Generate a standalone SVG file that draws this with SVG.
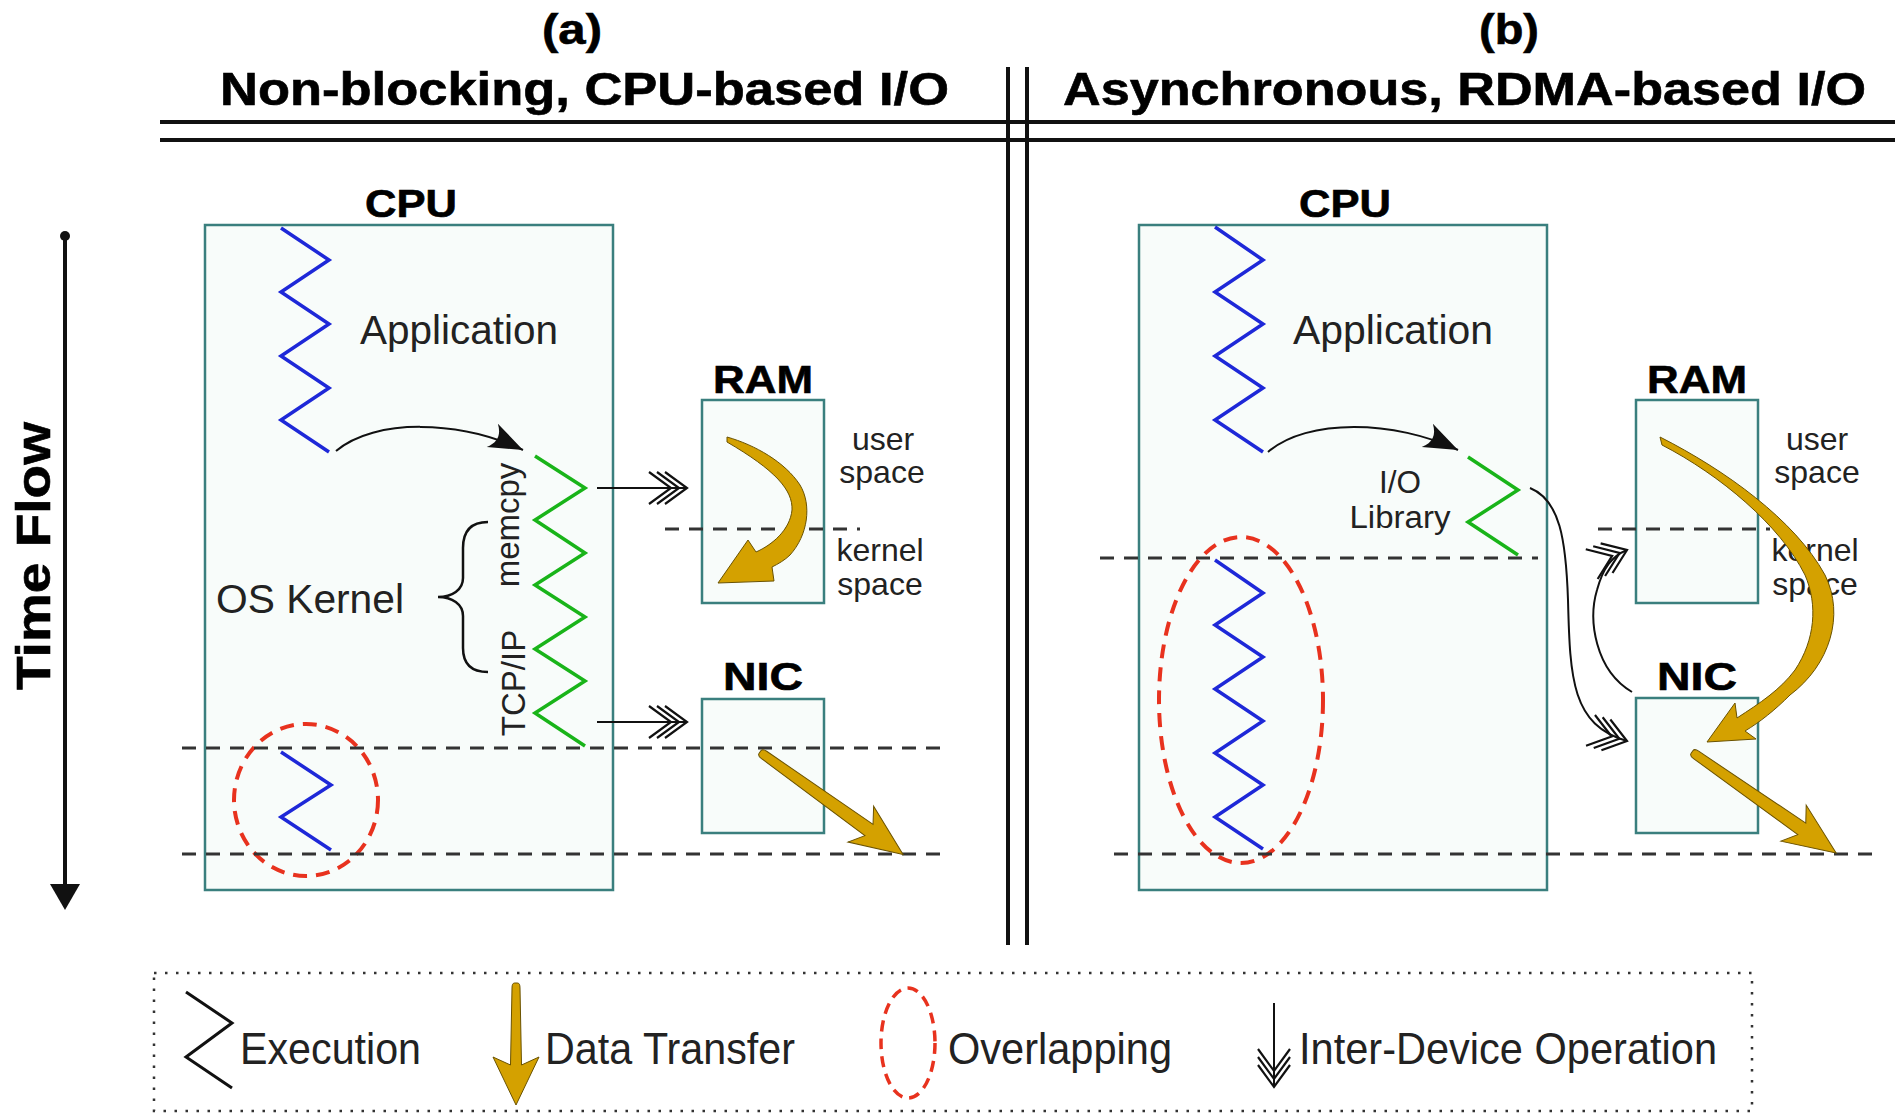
<svg xmlns="http://www.w3.org/2000/svg" width="1899" height="1114" viewBox="0 0 1899 1114">
<style>
.box{fill:#f8fcfa;stroke:#3a7f7e;stroke-width:2.5}
.zb{fill:none;stroke:#1e28d8;stroke-width:3.5}
.zg{fill:none;stroke:#19b419;stroke-width:3.5}
.dash{fill:none;stroke:#333;stroke-width:3;stroke-dasharray:14 10}
.ov{fill:none;stroke:#e8321e;stroke-width:4;stroke-dasharray:14 9}
.gold{fill:#d4a100;stroke:#6a5200;stroke-width:1}
.lbl{font-family:"Liberation Sans",Arial,sans-serif;fill:#222}
.hd{font-family:"Liberation Sans",Arial,sans-serif;font-weight:bold;fill:#000;stroke:#000;stroke-width:0.6}
.conn{fill:none;stroke:#111;stroke-width:2}
.rule{stroke:#111;stroke-width:4}
</style>
<defs>
<marker id="ah" markerUnits="userSpaceOnUse" viewBox="-40 -20 45 40" refX="0" refY="0" markerWidth="45" markerHeight="40" orient="auto">
<path d="M0,0 L-34,-13 C-26,-4 -26,4 -34,13 Z" fill="#111"/>
</marker>
<marker id="tri" markerUnits="userSpaceOnUse" viewBox="-45 -20 50 40" refX="0" refY="0" markerWidth="50" markerHeight="40" orient="auto">
<path d="M-22,-16 L0,0 L-22,16 M-30,-16 L-8,0 L-30,16 M-38,-16 L-16,0 L-38,16" fill="none" stroke="#111" stroke-width="2.2"/>
</marker>
<path id="gs" d="M0,-1.5 Q0,-4.5 5,-4.5 L134,-7 L124,-22 L176,0 L124,22 L134,7 L5,4.5 Q0,4.5 0,1.5 Z"/>
</defs>
<rect width="1899" height="1114" fill="#fff"/>

<g id="dividers">
<line class="rule" x1="160" y1="122" x2="1895" y2="122"/>
<line class="rule" x1="160" y1="140" x2="1895" y2="140"/>
<line class="rule" x1="1008" y1="67" x2="1008" y2="945"/>
<line class="rule" x1="1027" y1="67" x2="1027" y2="945"/>
</g>

<g id="title-a">
<text class="hd" x="572" y="44" font-size="42" text-anchor="middle" textLength="60" lengthAdjust="spacingAndGlyphs">(a)</text>
<text class="hd" x="220" y="105" font-size="46" textLength="729" lengthAdjust="spacingAndGlyphs">Non-blocking, CPU-based I/O</text>
</g>
<g id="title-b">
<text class="hd" x="1509" y="44" font-size="42" text-anchor="middle" textLength="60" lengthAdjust="spacingAndGlyphs">(b)</text>
<text class="hd" x="1063" y="105" font-size="46" textLength="803" lengthAdjust="spacingAndGlyphs">Asynchronous, RDMA-based I/O</text>
</g>

<g id="timeflow">
<circle cx="65" cy="236" r="5" fill="#111"/>
<line x1="65" y1="236" x2="65" y2="888" stroke="#111" stroke-width="4"/>
<polygon points="50,884 80,884 65,910" fill="#111"/>
<text class="hd" transform="translate(50,556) rotate(-90)" font-size="48" text-anchor="middle" textLength="268" lengthAdjust="spacingAndGlyphs">Time Flow</text>
</g>

<!-- Panel (a) -->
<g id="cpu-a">
<text class="hd" x="411" y="217" font-size="38" text-anchor="middle" textLength="92" lengthAdjust="spacingAndGlyphs">CPU</text>
<rect class="box" x="205" y="225" width="408" height="665"/>
<polyline class="zb" points="281,228 329,260 281,292 329,324 281,356 329,388 281,420 329,452"/>
<text class="lbl" x="360" y="344" font-size="40" textLength="198" lengthAdjust="spacingAndGlyphs">Application</text>
<polyline class="zg" points="535,456 585,488 535,520 585,553 535,585 585,617 535,649 585,681 535,713 585,746"/>
<text class="lbl" transform="translate(519,525) rotate(-90)" font-size="33" text-anchor="middle">memcpy</text>
<text class="lbl" transform="translate(525,683) rotate(-90)" font-size="33" text-anchor="middle">TCP/IP</text>
<path d="M488,522 C470,522 463,532 463,548 L463,578 C463,590 452,597 438,597 C452,597 463,604 463,616 L463,648 C463,663 470,672 488,672" fill="none" stroke="#111" stroke-width="2.5"/>
<text class="lbl" x="216" y="613" font-size="40" textLength="188" lengthAdjust="spacingAndGlyphs">OS Kernel</text>
<polyline class="zb" points="281,752 331,785 281,817 331,850"/>
<ellipse class="ov" cx="306" cy="800" rx="72" ry="76"/>
</g>

<g id="ram-a">
<text class="hd" x="763" y="393" font-size="38" text-anchor="middle" textLength="100" lengthAdjust="spacingAndGlyphs">RAM</text>
<rect class="box" x="702" y="400" width="122" height="203"/>
<text class="lbl" x="883" y="450" font-size="32" text-anchor="middle">user</text>
<text class="lbl" x="882" y="483" font-size="32" text-anchor="middle">space</text>
<text class="lbl" x="880" y="561" font-size="32" text-anchor="middle">kernel</text>
<text class="lbl" x="880" y="595" font-size="32" text-anchor="middle">space</text>
<line class="dash" x1="665" y1="529" x2="860" y2="529"/>
<path class="gold" d="M727,437 C755,445 785,462 800,485 C812,505 808,535 790,555 C785,560 778,564 772,567 L774,581 L718,583 L748,540 L756,552 C772,545 790,530 792,510 C793,490 775,470 727,442 Z"/>
</g>

<g id="nic-a">
<text class="hd" x="763" y="690" font-size="38" text-anchor="middle" textLength="80" lengthAdjust="spacingAndGlyphs">NIC</text>
<rect class="box" x="702" y="699" width="122" height="134"/>
</g>

<!-- Panel (b) -->
<g id="cpu-b">
<text class="hd" x="1345" y="217" font-size="38" text-anchor="middle" textLength="92" lengthAdjust="spacingAndGlyphs">CPU</text>
<rect class="box" x="1139" y="225" width="408" height="665"/>
<polyline class="zb" points="1215,227 1263,260 1215,292 1263,324 1215,356 1263,388 1215,420 1263,452"/>
<text class="lbl" x="1293" y="344" font-size="40" textLength="200" lengthAdjust="spacingAndGlyphs">Application</text>
<polyline class="zg" points="1468,457 1518,490 1468,522 1518,555"/>
<text class="lbl" x="1400" y="493" font-size="31" text-anchor="middle" textLength="42" lengthAdjust="spacingAndGlyphs">I/O</text>
<text class="lbl" x="1400" y="528" font-size="31" text-anchor="middle" textLength="101" lengthAdjust="spacingAndGlyphs">Library</text>
<polyline class="zb" points="1215,560 1263,593 1215,625 1263,657 1215,689 1263,721 1215,753 1263,785 1215,817 1263,849"/>
<ellipse class="ov" cx="1241" cy="700" rx="82" ry="163"/>
</g>

<g id="ram-b">
<text class="hd" x="1697" y="393" font-size="38" text-anchor="middle" textLength="100" lengthAdjust="spacingAndGlyphs">RAM</text>
<rect class="box" x="1636" y="400" width="122" height="203"/>
<text class="lbl" x="1817" y="450" font-size="32" text-anchor="middle">user</text>
<text class="lbl" x="1817" y="483" font-size="32" text-anchor="middle">space</text>
<text class="lbl" x="1815" y="561" font-size="32" text-anchor="middle">kernel</text>
<text class="lbl" x="1815" y="595" font-size="32" text-anchor="middle">space</text>
<line class="dash" x1="1598" y1="529" x2="1770" y2="529"/>
</g>

<g id="nic-b">
<text class="hd" x="1697" y="690" font-size="38" text-anchor="middle" textLength="80" lengthAdjust="spacingAndGlyphs">NIC</text>
<rect class="box" x="1636" y="698" width="122" height="135"/>
</g>

<g id="timelines">
<line class="dash" x1="182" y1="748" x2="945" y2="748"/>
<line class="dash" x1="182" y1="854" x2="945" y2="854"/>
<line class="dash" x1="1100" y1="558" x2="1538" y2="558"/>
<line class="dash" x1="1114" y1="854" x2="1878" y2="854"/>
</g>

<g id="connectors">
<path class="conn" d="M336,451 C375,418 460,420 523,450" marker-end="url(#ah)"/>
<path class="conn" d="M1268,452 C1307,418 1395,420 1458,450" marker-end="url(#ah)"/>
<line class="conn" x1="597" y1="488" x2="687" y2="488" marker-end="url(#tri)"/>
<line class="conn" x1="597" y1="722" x2="687" y2="722" marker-end="url(#tri)"/>
<path class="conn" d="M1530,488 C1560,500 1566,540 1568,600 C1570,680 1572,725 1627,741" marker-end="url(#tri)"/>
<path class="conn" d="M1632,692 C1595,670 1588,620 1597,590 C1603,568 1612,556 1627,550" marker-end="url(#tri)"/>
<use href="#gs" class="gold" transform="translate(760,752) rotate(35.6)"/>
<use href="#gs" class="gold" transform="translate(1692,752) rotate(35)"/>
<path class="gold" d="M1660,437 C1725,470 1795,520 1825,575 C1845,615 1830,665 1790,695 C1775,710 1760,722 1745,731 L1756,739 L1707,742 L1735,703 L1737,718 C1760,703 1780,690 1795,670 C1815,640 1818,605 1805,575 C1780,525 1720,475 1662,445 Z"/>
</g>

<g id="legend">
<rect x="154" y="973" width="1598" height="138" fill="none" stroke="#333" stroke-width="2.5" stroke-dasharray="2.5 8.5"/>
<polyline points="186,992 232,1023 186,1057 232,1088" fill="none" stroke="#111" stroke-width="3"/>
<text class="lbl" x="240" y="1064" font-size="44" textLength="181" lengthAdjust="spacingAndGlyphs">Execution</text>
<path class="gold" transform="translate(516,983) rotate(90)" d="M0,-1.5 Q0,-4 5,-4 L82,-5.5 L74,-23 L122,0 L74,23 L82,5.5 L5,4 Q0,4 0,1.5 Z"/>
<text class="lbl" x="545" y="1064" font-size="44" textLength="250" lengthAdjust="spacingAndGlyphs">Data Transfer</text>
<ellipse cx="908" cy="1043" rx="27" ry="55" fill="none" stroke="#e8321e" stroke-width="3.5" stroke-dasharray="11 7"/>
<text class="lbl" x="948" y="1064" font-size="44" textLength="224" lengthAdjust="spacingAndGlyphs">Overlapping</text>
<line class="conn" x1="1274" y1="1003" x2="1274" y2="1087" marker-end="url(#tri)"/>
<text class="lbl" x="1299" y="1064" font-size="44" textLength="418" lengthAdjust="spacingAndGlyphs">Inter-Device Operation</text>
</g>
</svg>
